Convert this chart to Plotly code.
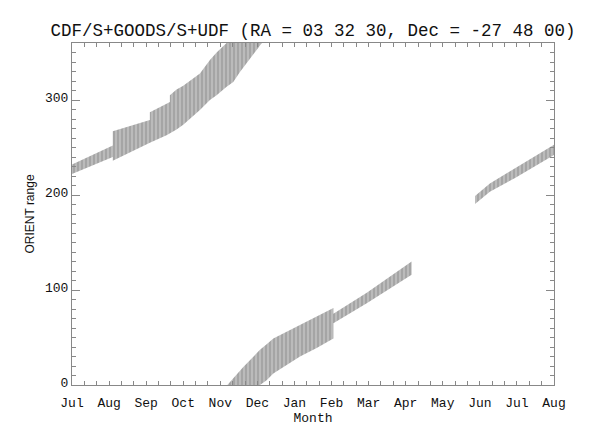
import plotly.graph_objects as go

# months counted from 1 July; bands (ORIENT in degrees)
months = ['Jul', 'Aug', 'Sep', 'Oct', 'Nov', 'Dec', 'Jan', 'Feb', 'Mar', 'Apr', 'May', 'Jun', 'Jul', 'Aug']

band1_x  = [0.0, 1.10, 1.10, 1.65, 2.10, 2.10, 2.55, 2.64, 2.64, 2.82, 3.0, 3.45, 3.72, 3.9, 4.17, 4.35, 4.53, 5.12]
band1_lo = [222, 240, 236, 246.6, 255, 255, 263, 265, 265, 269, 274, 289.5, 300, 305, 314, 319, 329.5, 360]
band1_hi = [232, 252, 267, 273.7, 279, 287, 296, 298, 305, 311, 315, 328, 342, 350, 360, 368, 376, 400]

band2_x  = [4.19, 4.62, 5.07, 5.25, 5.43, 5.79, 6.15, 6.6, 7.05, 7.05, 7.95, 9.16]
band2_lo = [-50, -25, 0, 5, 12, 21, 30, 39, 49, 65, 86, 116]
band2_hi = [0, 19, 37, 43, 49, 56, 63, 72, 81, 75, 97, 130]

band3_x  = [10.87, 11.27, 11.95, 13.0]
band3_lo = [190.5, 203.5, 218, 242]
band3_hi = [199, 212, 228, 253]

fig = go.Figure()
for bx, lo, hi in [(band1_x, band1_lo, band1_hi), (band2_x, band2_lo, band2_hi), (band3_x, band3_lo, band3_hi)]:
    fig.add_trace(go.Scatter(x=bx + bx[::-1], y=lo + hi[::-1], mode='lines', fill='toself',
                             line=dict(width=0, color='rgba(0,0,0,0)'),
                             fillcolor='#cfcfcf',
                             fillpattern=dict(shape='|', fgcolor='#777777', bgcolor='#d2d2d2', size=4, solidity=0.75),
                             hoverinfo='skip', showlegend=False))

# page body adds an 8px offset, so margins are trimmed to land the frame where the reference has it
mono = 'Liberation Mono'
fig.update_layout(width=600, height=444, margin=dict(l=64, r=54, t=35, b=67),
                  paper_bgcolor='white', plot_bgcolor='white', showlegend=False,
                  title=dict(text='CDF/S+GOODS/S+UDF (RA = 03 32 30, Dec = -27 48 00)',
                             font=dict(family=mono, size=17.5, color='#111'),
                             x=305 / 600, xanchor='center', yref='container', y=1 - 22 / 444, yanchor='middle'))
fig.update_xaxes(range=[0, 13], tickvals=list(range(14)), ticktext=months, automargin=False,
                 ticks='inside', ticklen=4, tickcolor='#888', showline=True, linecolor='#888', linewidth=1,
                 mirror='ticks', showgrid=False, zeroline=False, ticklabelstandoff=5,
                 minor=dict(dtick=1 / 3, ticks='inside', ticklen=4, tickcolor='#888', showgrid=False),
                 tickfont=dict(family=mono, size=13, color='#111'),
                 title=dict(text='Month', font=dict(family=mono, size=13, color='#111'), standoff=0))
fig.update_yaxes(range=[0, 360], dtick=100, ticks='inside', ticklen=8, tickcolor='#888', automargin=False,
                 showline=True, linecolor='#888', linewidth=1, mirror='ticks', showgrid=False, zeroline=False,
                 minor=dict(dtick=10, ticks='inside', ticklen=4, tickcolor='#888', showgrid=False),
                 tickfont=dict(family=mono, size=13, color='#111'), ticklabelshift=-3,
                 title=dict(text='ORIENT range', font=dict(family='Liberation Sans', size=12, color='#111'), standoff=7))
fig.write_html('out.html')
